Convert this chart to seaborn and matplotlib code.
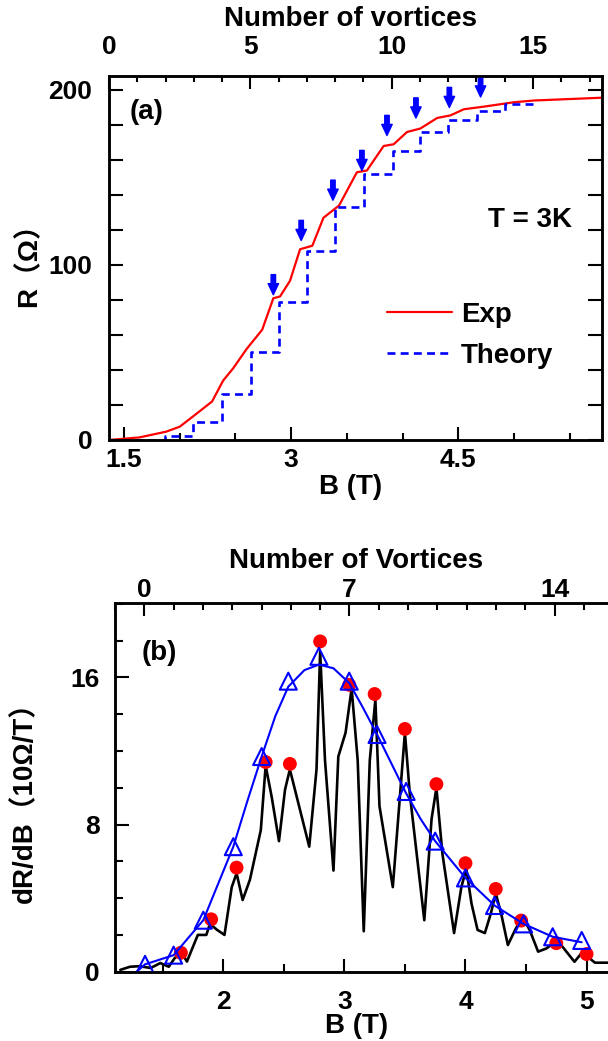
import matplotlib
matplotlib.use("Agg")
import matplotlib.pyplot as plt
from matplotlib.ticker import MultipleLocator
import seaborn as sns

# ------------------------
# (a) R(B) data
# ------------------------
exp_b = [1.365, 1.64, 1.88, 2.0, 2.15, 2.29, 2.39, 2.48, 2.60, 2.74, 2.84, 2.90, 2.99, 3.08, 3.19,
         3.29, 3.43, 3.59, 3.68, 3.83, 3.92, 4.04, 4.16, 4.31, 4.43, 4.55, 4.73, 5.0, 5.18, 5.79]
exp_r = [0, 1.5, 4.8, 7.6, 15, 22, 34, 41, 52, 63, 81, 82, 91, 109, 111,
         127, 134, 153, 154, 168, 169, 176, 178, 184, 185.5, 189, 190.5, 193, 194, 195.6]

theory_b = [1.365, 1.87, 2.12, 2.38, 2.64, 2.89, 3.14, 3.395, 3.65, 3.91, 4.16, 4.41, 4.67, 4.92, 5.18]
theory_r = [0, 2, 10, 26, 50, 79, 108, 133, 152, 165, 176, 183, 188, 192, 192]

arrow_b = [2.84, 3.09, 3.375, 3.635, 3.86, 4.12, 4.42, 4.70]
arrow_r = [83, 114, 137, 154, 174, 184, 190, 196]

# ------------------------
# (b) dR/dB data
# ------------------------
deriv_b = [1.15, 1.23, 1.31, 1.40, 1.48, 1.55, 1.60, 1.66, 1.70, 1.75, 1.79, 1.86, 1.89, 1.95, 2.01,
           2.07, 2.11, 2.16, 2.22, 2.28, 2.31, 2.35, 2.40, 2.46, 2.51, 2.55, 2.71, 2.77, 2.80, 2.84,
           2.91, 2.95, 3.01, 3.06, 3.11, 3.16, 3.21, 3.256, 3.29, 3.40, 3.50, 3.54, 3.66, 3.72, 3.76,
           3.81, 3.906, 3.966, 4.007, 4.05, 4.10, 4.16, 4.21, 4.25, 4.30, 4.35, 4.41, 4.47, 4.53,
           4.60, 4.67, 4.74, 4.79, 4.90, 4.98, 5.04, 5.07, 5.21]
deriv_v = [0.1, 0.27, 0.3, 0.2, 0.47, 0.27, 0.75, 1.0, 0.55, 1.36, 2.0, 2.0, 2.6, 2.27, 2.0,
           4.6, 5.35, 3.9, 5.0, 6.8, 7.7, 11.2, 9.5, 7.1, 9.9, 11.0, 6.8, 11.0, 17.4, 11.5,
           5.5, 11.7, 13.0, 15.4, 11.5, 2.2, 11.5, 14.8, 9.0, 4.6, 13.0, 9.7, 2.8, 8.3, 10.0,
           6.4, 2.1, 4.6, 5.6, 3.7, 2.27, 2.1, 3.18, 4.27, 3.0, 1.45, 2.27, 3.0, 2.27,
           1.09, 1.27, 1.63, 1.45, 0.54, 1.18, 0.64, 0.49, 0.49]

peak_b = [1.65, 1.90, 2.11, 2.35, 2.55, 2.80, 3.04, 3.25, 3.50, 3.76, 4.0, 4.25, 4.46, 4.75, 5.0]
peak_v = [1.03, 2.85, 5.66, 11.4, 11.3, 17.96, 15.6, 15.1, 13.2, 10.2, 5.9, 4.5, 2.78, 1.55, 0.96]

tri_b = [1.354, 1.59, 1.835, 2.083, 2.317, 2.537, 2.79, 3.04, 3.27, 3.51, 3.75, 4.0, 4.24, 4.48, 4.72, 4.96]
tri_v = [0.4, 0.9, 2.8, 6.8, 11.7, 15.8, 17.15, 15.8, 12.9, 9.8, 7.1, 5.1, 3.6, 2.6, 1.9, 1.7]

fit_b = [1.285, 1.354, 1.59, 1.835, 2.083, 2.2, 2.317, 2.43, 2.537, 2.67, 2.79, 2.91, 3.04, 3.15,
         3.27, 3.39, 3.51, 3.63, 3.75, 4.0, 4.24, 4.48, 4.72, 4.96]
fit_v = [0, 0.4, 0.9, 2.8, 6.8, 9.3, 11.7, 13.9, 15.5, 16.4, 16.7, 16.5, 15.7, 14.4,
         12.9, 11.3, 9.7, 8.3, 7.1, 5.1, 3.6, 2.6, 1.9, 1.6]

# ------------------------
# style
# ------------------------
sns.set_style("ticks")
plt.rcParams["font.family"] = ["Liberation Sans", "Noto Sans CJK SC", "DejaVu Sans"]
plt.rcParams["font.weight"] = "bold"
plt.rcParams["axes.labelweight"] = "bold"
plt.rcParams["axes.linewidth"] = 1.8
for key in ["text.color", "axes.labelcolor", "xtick.color", "ytick.color", "axes.edgecolor"]:
    plt.rcParams[key] = "black"

TICK_FS = 19
LABEL_FS = 20
BLUE = "#0000ff"
RED = "#ff0000"

fig = plt.figure(figsize=(6.08, 10.41), dpi=100)
ax_a = fig.add_axes([109 / 608, 1 - 440 / 1041, 493 / 608, 364 / 1041])
ax_b = fig.add_axes([115 / 608, 1 - 971.7 / 1041, 497 / 608, 368.7 / 1041])


def style_ticks(ax):
    ax.tick_params(which="both", direction="in", width=1.5, labelsize=TICK_FS,
                   color="black", labelcolor="black")
    for sp in ax.spines.values():
        sp.set_linewidth(1.8)
        sp.set_color("black")


# ------------------------
# panel (a)
# ------------------------
sns.lineplot(x=exp_b, y=exp_r, ax=ax_a, color=RED, lw=1.6, label="Exp", estimator=None)
sns.lineplot(x=theory_b, y=theory_r, ax=ax_a, color=BLUE, lw=1.9, linestyle=(0, (3, 2)),
             drawstyle="steps-post", label="Theory", estimator=None)

for b, r in zip(arrow_b, arrow_r):
    ax_a.annotate("", xy=(b, r), xytext=(b, r + 11.5),
                  arrowprops=dict(arrowstyle="simple,head_length=0.8,head_width=0.75,tail_width=0.32",
                                  color=BLUE, shrinkA=0, shrinkB=0, mutation_scale=10),
                  annotation_clip=False)

ax_a.set_xlim(1.365, 5.79)
ax_a.set_ylim(0, 208)
ax_a.xaxis.set_major_locator(MultipleLocator(1.5))
ax_a.xaxis.set_minor_locator(MultipleLocator(0.5))
ax_a.yaxis.set_major_locator(MultipleLocator(100))
ax_a.yaxis.set_minor_locator(MultipleLocator(20))
ax_a.set_xlabel("B (T)", fontsize=LABEL_FS)
ax_a.set_ylabel("R（Ω）", fontsize=LABEL_FS)
ax_a.xaxis.set_label_coords(0.489, -0.094)
ax_a.yaxis.set_label_coords(-0.135, 0.5)

top_a = ax_a.twiny()
top_a.set_xlim(0, 17.44)
top_a.xaxis.set_major_locator(MultipleLocator(5))
top_a.xaxis.set_minor_locator(MultipleLocator(1))
top_a.set_xlabel("Number of vortices", fontsize=LABEL_FS)
top_a.xaxis.set_label_coords(0.489, 1.136)

style_ticks(ax_a)
style_ticks(top_a)
ax_a.tick_params(which="both", right=True, top=False)
ax_a.tick_params(axis="x", which="major", length=9.5, pad=6)
ax_a.tick_params(axis="x", which="minor", length=5)
ax_a.tick_params(axis="y", which="both", length=10, pad=12)
top_a.tick_params(axis="x", which="major", length=9.5, pad=12)
top_a.tick_params(axis="x", which="minor", length=4.5)
ax_a.xaxis.set_major_formatter(plt.FuncFormatter(lambda v, p: f"{v:g}"))

ax_a.text(0.077, 0.90, "(a)", transform=ax_a.transAxes, fontsize=LABEL_FS,
          ha="center", va="center", fontweight="bold")
ax_a.text(0.854, 0.604, "T = 3K", transform=ax_a.transAxes, fontsize=LABEL_FS,
          ha="center", va="center", fontweight="bold")
ax_a.legend(loc="center left", bbox_to_anchor=(0.564, 0.288), frameon=False,
            fontsize=LABEL_FS, handlelength=2.35, handletextpad=0.3,
            labelspacing=0.55, borderpad=0, borderaxespad=0)

# ------------------------
# panel (b)
# ------------------------
sns.lineplot(x=deriv_b, y=deriv_v, ax=ax_b, color="black", lw=1.9, estimator=None, zorder=2)
sns.scatterplot(x=peak_b, y=peak_v, ax=ax_b, color=RED, s=100, edgecolor="none", zorder=3)
sns.lineplot(x=fit_b, y=fit_v, ax=ax_b, color=BLUE, lw=1.5, estimator=None, zorder=4)
sns.scatterplot(x=tri_b, y=tri_v, ax=ax_b, marker="^", s=150, facecolor="none",
                edgecolor=BLUE, linewidth=1.5, zorder=5)

ax_b.set_xlim(1.106, 5.21)
ax_b.set_ylim(0, 20.05)
ax_b.xaxis.set_major_locator(MultipleLocator(1))
ax_b.xaxis.set_minor_locator(MultipleLocator(0.5))
ax_b.yaxis.set_major_locator(MultipleLocator(8))
ax_b.yaxis.set_minor_locator(MultipleLocator(2))
ax_b.set_xlabel("B (T)", fontsize=LABEL_FS)
ax_b.set_ylabel("dR/dB（10Ω/T）", fontsize=LABEL_FS)
ax_b.xaxis.set_label_coords(0.487, -0.112)
ax_b.yaxis.set_label_coords(-0.155, 0.479)

top_b = ax_b.twiny()
top_b.set_xlim(-1.0, 15.96)
top_b.xaxis.set_major_locator(MultipleLocator(7))
top_b.xaxis.set_minor_locator(MultipleLocator(1))
top_b.set_xlabel("Number of Vortices", fontsize=LABEL_FS)
top_b.xaxis.set_label_coords(0.485, 1.0936)

style_ticks(ax_b)
style_ticks(top_b)
ax_b.tick_params(which="both", right=False, top=False)
ax_b.tick_params(axis="x", which="major", length=9.5, pad=13)
ax_b.tick_params(axis="x", which="minor", length=5.5)
ax_b.tick_params(axis="y", which="major", length=10, pad=11)
ax_b.tick_params(axis="y", which="minor", length=5.5)
top_b.tick_params(axis="x", which="major", length=9.5, pad=1)
top_b.tick_params(axis="x", which="minor", length=5)

ax_b.text(0.089, 0.864, "(b)", transform=ax_b.transAxes, fontsize=LABEL_FS,
          ha="center", va="center", fontweight="bold")

fig.savefig("out.png", dpi=100)
